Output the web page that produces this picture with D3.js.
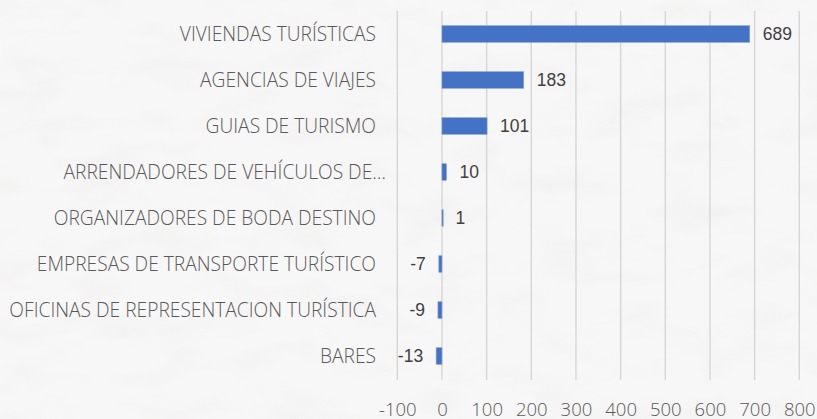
<!DOCTYPE html>
<html><head><meta charset="utf-8">
<script src="https://cdn.jsdelivr.net/npm/d3@7"></script>
<style>html,body{margin:0;padding:0;background:#f6f5f4;}svg{display:block;}</style>
</head><body>
<svg id="c" width="817" height="419"></svg>
<script>
const categories = ["VIVIENDAS TURÍSTICAS","AGENCIAS DE VIAJES","GUIAS DE TURISMO","ARRENDADORES DE VEHÍCULOS DE…","ORGANIZADORES DE BODA DESTINO","EMPRESAS DE TRANSPORTE TURÍSTICO","OFICINAS DE REPRESENTACION TURÍSTICA","BARES"];
const values = [689,183,101,10,1,-7,-9,-13];
const tickValues = [-100,0,100,200,300,400,500,600,700,800];

const svg = d3.select("#c");
const defs = svg.append("defs");
const f = defs.append("filter").attr("id","paper").attr("x",0).attr("y",0).attr("width","100%").attr("height","100%");
f.append("feTurbulence").attr("type","fractalNoise").attr("baseFrequency","0.015 0.035").attr("numOctaves",4).attr("seed",5).attr("result","n");
f.append("feColorMatrix").attr("type","matrix").attr("values","0 0 0 0 0.80  0 0 0 0 0.79  0 0 0 0 0.78  0 0 0 -1.8 1.0").attr("in","n");

svg.append("rect").attr("width",817).attr("height",419).attr("fill","#f8f7f7");
svg.append("rect").attr("width",817).attr("height",419).attr("fill","#fff").attr("filter","url(#paper)").attr("opacity",0.35);

const x = d3.scaleLinear().domain([-100,800]).range([397.3,799.3]);
const y = d3.scaleBand().domain(categories).range([11,379]).paddingInner(0.64).paddingOuter(0.32);

const fontCat = "'Open Sans', sans-serif";

// gridlines
svg.append("g").selectAll("line").data(tickValues).join("line")
  .attr("x1",d=>x(d)).attr("x2",d=>x(d))
  .attr("y1",11).attr("y2",380)
  .attr("stroke","#d6d6d6").attr("stroke-width",1.4);

// x axis labels
const xAxis = d3.axisBottom(x).tickValues(tickValues).tickFormat(d=>String(d)).tickSize(0).tickPadding(0);
const gx = svg.append("g").call(xAxis);
gx.select(".domain").remove();
gx.selectAll("text").attr("font-family",fontCat).attr("font-weight",300).attr("font-size",18.5).attr("fill","#595959")
  .attr("y",415.5).attr("dy",null);

// y axis labels
const yAxis = d3.axisLeft(y).tickSize(0).tickPadding(0);
const gy = svg.append("g").attr("transform","translate(376,0)").call(yAxis);
gy.select(".domain").remove();
gy.selectAll("text").attr("font-family",fontCat).attr("font-weight",300).attr("font-size",19.2).attr("fill","#595959")
  .attr("x",d=>d.endsWith("…") ? 10 : 0).attr("dy","0.35em");

// bars
svg.append("g").selectAll("rect").data(values).join("rect")
  .attr("x",d=>x(Math.min(0,d)))
  .attr("width",d=>Math.max(1.2,Math.abs(x(d)-x(0))))
  .attr("y",(d,i)=>y(categories[i]))
  .attr("height",y.bandwidth())
  .attr("fill","#4472c4").attr("stroke","#7f9edb").attr("stroke-width",0.6);

// value labels
svg.append("g").selectAll("text").data(values).join("text")
  .attr("x",d=>d>=0 ? x(d)+13 : x(d)-13)
  .attr("y",(d,i)=>y(categories[i])+y.bandwidth()/2)
  .attr("dy","0.36em")
  .attr("text-anchor",d=>d>=0?"start":"end")
  .attr("font-family","'Liberation Sans', Arial, sans-serif").attr("font-size",17.5).attr("fill","#404040")
  .text(d=>d);
</script>
</body></html>
